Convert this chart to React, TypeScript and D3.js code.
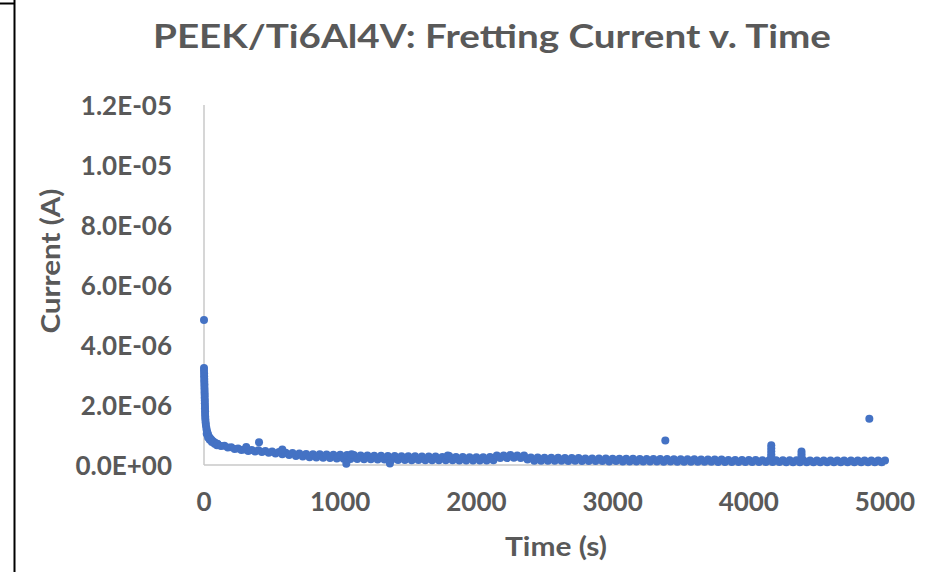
import React from "react";
import * as d3 from "d3";

// ---- Data (time in s, current in µA) ----
const earlyTime = [0, 0, 0, 1, 1, 2, 2, 3, 3, 4, 4, 5, 5, 6, 6, 7, 7, 8, 8, 9, 10, 12, 14, 17, 20, 24, 28, 33, 39, 46, 54, 63, 73, 85, 98, 20, 30, 42, 58, 78, 95];
const earlyCurrent = [4.83, 3.23, 3.14, 3.05, 2.96, 2.87, 2.78, 2.69, 2.6, 2.51, 2.42, 2.33, 2.24, 2.15, 2.06, 1.97, 1.88, 1.79, 1.7, 1.61, 1.52, 1.42, 1.33, 1.24, 1.16, 1.09, 1.03, 0.97, 0.92, 0.88, 0.84, 0.8, 0.77, 0.73, 0.7, 1.04, 0.92, 0.84, 0.77, 0.71, 0.66];

const bandTime = [
  100, 125, 150, 175, 200, 225, 250, 275, 300, 325,
  350, 375, 400, 425, 450, 475, 500, 525, 550, 575,
  600, 625, 650, 675, 700, 725, 750, 775, 800, 825,
  850, 875, 900, 925, 950, 975, 1000, 1025, 1050, 1075,
  1100, 1125, 1150, 1175, 1200, 1225, 1250, 1275, 1300, 1325,
  1350, 1375, 1400, 1425, 1450, 1475, 1500, 1525, 1550, 1575,
  1600, 1625, 1650, 1675, 1700, 1725, 1750, 1775, 1800, 1825,
  1850, 1875, 1900, 1925, 1950, 1975, 2000, 2025, 2050, 2075,
  2100, 2125, 2150, 2175, 2200, 2225, 2250, 2275, 2300, 2325,
  2350, 2375, 2400, 2425, 2450, 2475, 2500, 2525, 2550, 2575,
  2600, 2625, 2650, 2675, 2700, 2725, 2750, 2775, 2800, 2825,
  2850, 2875, 2900, 2925, 2950, 2975, 3000, 3025, 3050, 3075,
  3100, 3125, 3150, 3175, 3200, 3225, 3250, 3275, 3300, 3325,
  3350, 3375, 3400, 3425, 3450, 3475, 3500, 3525, 3550, 3575,
  3600, 3625, 3650, 3675, 3700, 3725, 3750, 3775, 3800, 3825,
  3850, 3875, 3900, 3925, 3950, 3975, 4000, 4025, 4050, 4075,
  4100, 4125, 4150, 4175, 4200, 4225, 4250, 4275, 4300, 4325,
  4350, 4375, 4400, 4425, 4450, 4475, 4500, 4525, 4550, 4575,
  4600, 4625, 4650, 4675, 4700, 4725, 4750, 4775, 4800, 4825,
  4850, 4875, 4900, 4925, 4950, 4975, 5000,
];
const bandCurrent = [
  0.7, 0.63, 0.64, 0.58, 0.59, 0.53, 0.55, 0.5, 0.52, 0.47,
  0.5, 0.45, 0.49, 0.43, 0.47, 0.41, 0.45, 0.38, 0.43, 0.36,
  0.41, 0.33, 0.4, 0.3, 0.38, 0.28, 0.37, 0.26, 0.36, 0.25,
  0.36, 0.24, 0.35, 0.23, 0.34, 0.22, 0.34, 0.21, 0.33, 0.2,
  0.33, 0.2, 0.32, 0.19, 0.32, 0.19, 0.31, 0.18, 0.31, 0.18,
  0.3, 0.17, 0.3, 0.17, 0.29, 0.17, 0.29, 0.16, 0.29, 0.17,
  0.28, 0.16, 0.28, 0.16, 0.28, 0.16, 0.27, 0.16, 0.3, 0.16,
  0.27, 0.15, 0.27, 0.15, 0.26, 0.15, 0.26, 0.15, 0.26, 0.15,
  0.27, 0.16, 0.32, 0.23, 0.32, 0.23, 0.33, 0.24, 0.32, 0.23,
  0.32, 0.18, 0.25, 0.14, 0.25, 0.14, 0.24, 0.14, 0.24, 0.14,
  0.24, 0.14, 0.23, 0.13, 0.23, 0.14, 0.23, 0.13, 0.22, 0.13,
  0.22, 0.13, 0.22, 0.13, 0.22, 0.12, 0.21, 0.13, 0.21, 0.12,
  0.21, 0.12, 0.21, 0.12, 0.2, 0.12, 0.2, 0.12, 0.2, 0.12,
  0.2, 0.11, 0.2, 0.12, 0.19, 0.11, 0.19, 0.11, 0.19, 0.11,
  0.19, 0.11, 0.18, 0.11, 0.18, 0.11, 0.18, 0.1, 0.18, 0.1,
  0.17, 0.1, 0.17, 0.1, 0.17, 0.1, 0.17, 0.1, 0.17, 0.1,
  0.16, 0.1, 0.16, 0.1, 0.16, 0.1, 0.16, 0.09, 0.16, 0.09,
  0.16, 0.09, 0.16, 0.09, 0.15, 0.09, 0.15, 0.09, 0.15, 0.09,
  0.15, 0.09, 0.15, 0.09, 0.15, 0.09, 0.15, 0.09, 0.15, 0.09,
  0.15, 0.09, 0.15, 0.09, 0.15, 0.09, 0.15,
];

const outlierTime = [310, 404, 575, 1045, 1084, 1365, 1790, 3387, 4165, 4165, 4165, 4165, 4165, 4387, 4387, 4387, 4885];
const outlierCurrent = [0.6, 0.76, 0.52, 0.04, 0.36, 0.05, 0.32, 0.82, 0.66, 0.56, 0.46, 0.36, 0.28, 0.45, 0.36, 0.27, 1.54];

const xTicks = [0, 1000, 2000, 3000, 4000, 5000];
const yTicks = [0, 2e-6, 4e-6, 6e-6, 8e-6, 1e-5, 1.2e-5];

const TITLE = "PEEK/Ti6Al4V: Fretting Current v. Time";
const X_TITLE = "Time (s)";
const Y_TITLE = "Current (A)";

const W = 935;
const H = 572;
const FONT = "Lato, 'Open Sans', sans-serif";
const TEXT = "#595959";
const DOT = "#4472C4";

function fmtExp(v: number): string {
  const [m, e] = v.toExponential(1).split("e");
  const n = Number(e);
  const sign = n < 0 ? "-" : "+";
  return `${m}E${sign}${String(Math.abs(n)).padStart(2, "0")}`;
}

export default function App() {
  const x = d3.scaleLinear().domain([0, 5000]).range([204, 885]);
  const y = d3.scaleLinear().domain([0, 1.2e-5]).range([465, 105]);

  const times = [...earlyTime, ...bandTime, ...outlierTime];
  const currents = [...earlyCurrent, ...bandCurrent, ...outlierCurrent];
  const pts = times.map((t, i) => ({ t, a: currents[i] * 1e-6 }));

  return (
    <svg
      width={W}
      height={H}
      style={{ position: "absolute", left: 0, top: 0, background: "#fff" }}
    >
      <rect x={0} y={0} width={W} height={H} fill="#fff" />
      {/* frame edge */}
      <line x1={14.5} y1={0} x2={14.5} y2={H} stroke="#000" strokeWidth={2} />
      <line x1={0} y1={3.5} x2={14.5} y2={3.5} stroke="#000" strokeWidth={2} />

      {/* title */}
      <text
        x={492}
        y={35}
        textAnchor="middle"
        dominantBaseline="central"
        fontFamily={FONT}
        fontWeight={700}
        fontSize={33}
        fill={TEXT}
        textLength={678}
        lengthAdjust="spacingAndGlyphs"
      >
        {TITLE}
      </text>

      {/* axes lines */}
      <line x1={x(0)} y1={y(1.2e-5)} x2={x(0)} y2={y(0)} stroke="#C8C8C8" strokeWidth={1.5} />
      <line x1={x(0)} y1={y(0)} x2={x(5000)} y2={y(0)} stroke="#C8C8C8" strokeWidth={1.5} />

      {/* y tick labels */}
      {yTicks.map((v) => (
        <text
          key={v}
          x={172}
          y={y(v)}
          textAnchor="end"
          dominantBaseline="central"
          fontFamily={FONT}
          fontWeight={700}
          fontSize={26}
          fill={TEXT}
        >
          {fmtExp(v)}
        </text>
      ))}

      {/* x tick labels */}
      {xTicks.map((v) => (
        <text
          key={v}
          x={x(v)}
          y={501}
          textAnchor="middle"
          dominantBaseline="central"
          fontFamily={FONT}
          fontWeight={700}
          fontSize={26}
          fill={TEXT}
        >
          {v}
        </text>
      ))}

      {/* axis titles */}
      <text
        x={556}
        y={546}
        textAnchor="middle"
        dominantBaseline="central"
        fontFamily={FONT}
        fontWeight={700}
        fontSize={26}
        fill={TEXT}
        textLength={102}
        lengthAdjust="spacingAndGlyphs"
      >
        {X_TITLE}
      </text>
      <text
        transform={`translate(50,261) rotate(-90)`}
        textAnchor="middle"
        dominantBaseline="central"
        fontFamily={FONT}
        fontWeight={700}
        fontSize={26}
        fill={TEXT}
        textLength={145}
        lengthAdjust="spacingAndGlyphs"
      >
        {Y_TITLE}
      </text>

      {/* points */}
      <g fill={DOT}>
        {pts.map((p, i) => (
          <circle key={i} cx={x(p.t)} cy={y(p.a)} r={4} />
        ))}
      </g>
    </svg>
  );
}
